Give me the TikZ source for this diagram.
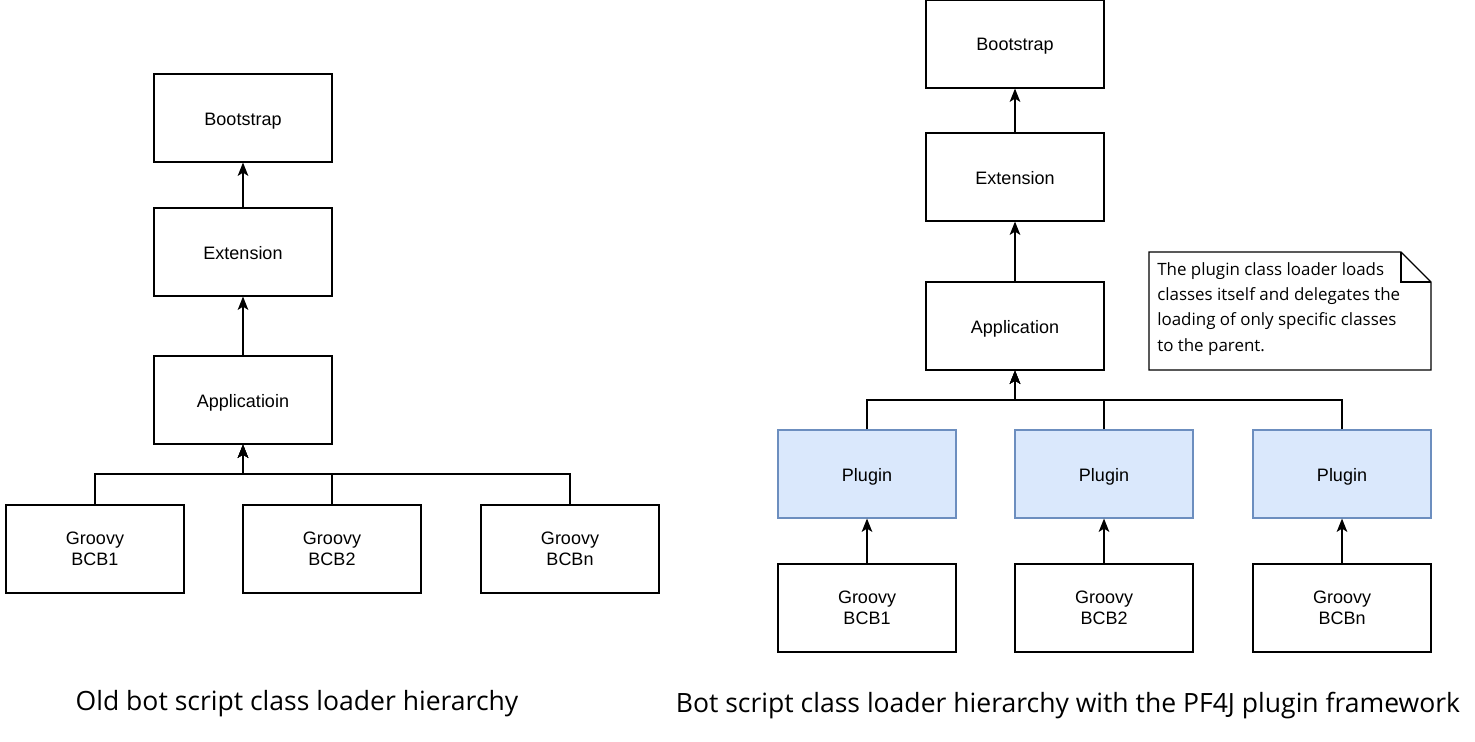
\documentclass[tikz,border=0pt]{standalone}
\usepackage{fontspec}
\setmainfont{Liberation Sans}
\newfontfamily\capfont{Open Sans}
\usetikzlibrary{arrows.meta}
\definecolor{plugfill}{HTML}{DAE8FC}
\definecolor{plugdraw}{HTML}{6C8EBF}
\tikzset{
  x=0.75pt, y=-0.75pt,
  box/.style={draw=black, line width=0.9pt, minimum width=133.5pt, minimum height=66pt, inner sep=0pt, align=center, font=\fontsize{13.5}{15.5}\selectfont},
  onebox/.style={box, text height=10.5pt, text depth=0pt},
  plug/.style={onebox, fill=plugfill, draw=plugdraw},
  conn/.style={line width=0.9pt, -{Stealth[length=10pt,width=8pt,inset=2.5pt]}},
  plain/.style={line width=0.9pt},
  captext/.style={font=\capfont\fontsize{19.9}{24}\selectfont, inner sep=0pt},
}
\begin{document}
\begin{tikzpicture}
\useasboundingbox (0,0) rectangle (1475,742);
% left
\node[onebox] (lboot) at (243,118) {Bootstrap};
\node[onebox] (lext) at (243,252) {Extension};
\node[onebox] (lapp) at (243,400) {Applicatioin};
\node[box] (lg1) at (95,549) {Groovy\\BCB1};
\node[box] (lg2) at (332,549) {Groovy\\BCB2};
\node[box] (lg3) at (570,549) {Groovy\\BCBn};
\coordinate (lbus) at (243,474);
\draw[conn] (lext) -- (lboot);
\draw[conn] (lapp) -- (lext);
\draw[conn] (lg1.north) |- (lbus) -- (lapp.south);
\draw[conn] (lg2.north) |- (lbus) -- (lapp.south);
\draw[conn] (lg3.north) |- (lbus) -- (lapp.south);
% right
\node[onebox] (rboot) at (1015,44) {Bootstrap};
\node[onebox] (rext) at (1015,177) {Extension};
\node[onebox] (rapp) at (1015,326) {Application};
\node[plug] (p1) at (867,474) {Plugin};
\node[plug] (p2) at (1104,474) {Plugin};
\node[plug] (p3) at (1342,474) {Plugin};
\node[box] (rg1) at (867,608) {Groovy\\BCB1};
\node[box] (rg2) at (1104,608) {Groovy\\BCB2};
\node[box] (rg3) at (1342,608) {Groovy\\BCBn};
\coordinate (rbus) at (1015,400);
\draw[conn] (rext) -- (rboot);
\draw[conn] (rapp) -- (rext);
\draw[conn] (p1.north) |- (rbus) -- (rapp.south);
\draw[conn] (p2.north) |- (rbus) -- (rapp.south);
\draw[conn] (p3.north) |- (rbus) -- (rapp.south);
\draw[conn] (rg1) -- (p1);
\draw[conn] (rg2) -- (p2);
\draw[conn] (rg3) -- (p3);
% note
\draw[plain, fill=white] (1149,252) -- (1401,252) -- (1431,282) -- (1431,370) -- (1149,370) -- cycle;
\draw[plain] (1401,252) -- (1401,282) -- (1431,282);
\node[anchor=north west, inner sep=0pt, align=left, font=\capfont\fontsize{12.7}{19}\selectfont] (note) at (1157,262) {The plugin class loader loads\\classes itself and delegates the\\loading of only specific classes\\to the parent.};
% captions
\node[captext] (cap1) at (297,704) {Old bot script class loader hierarchy};
\node[captext] (cap2) at (1068,706) {Bot script class loader hierarchy with the PF4J plugin framework};
\end{tikzpicture}
\end{document}
